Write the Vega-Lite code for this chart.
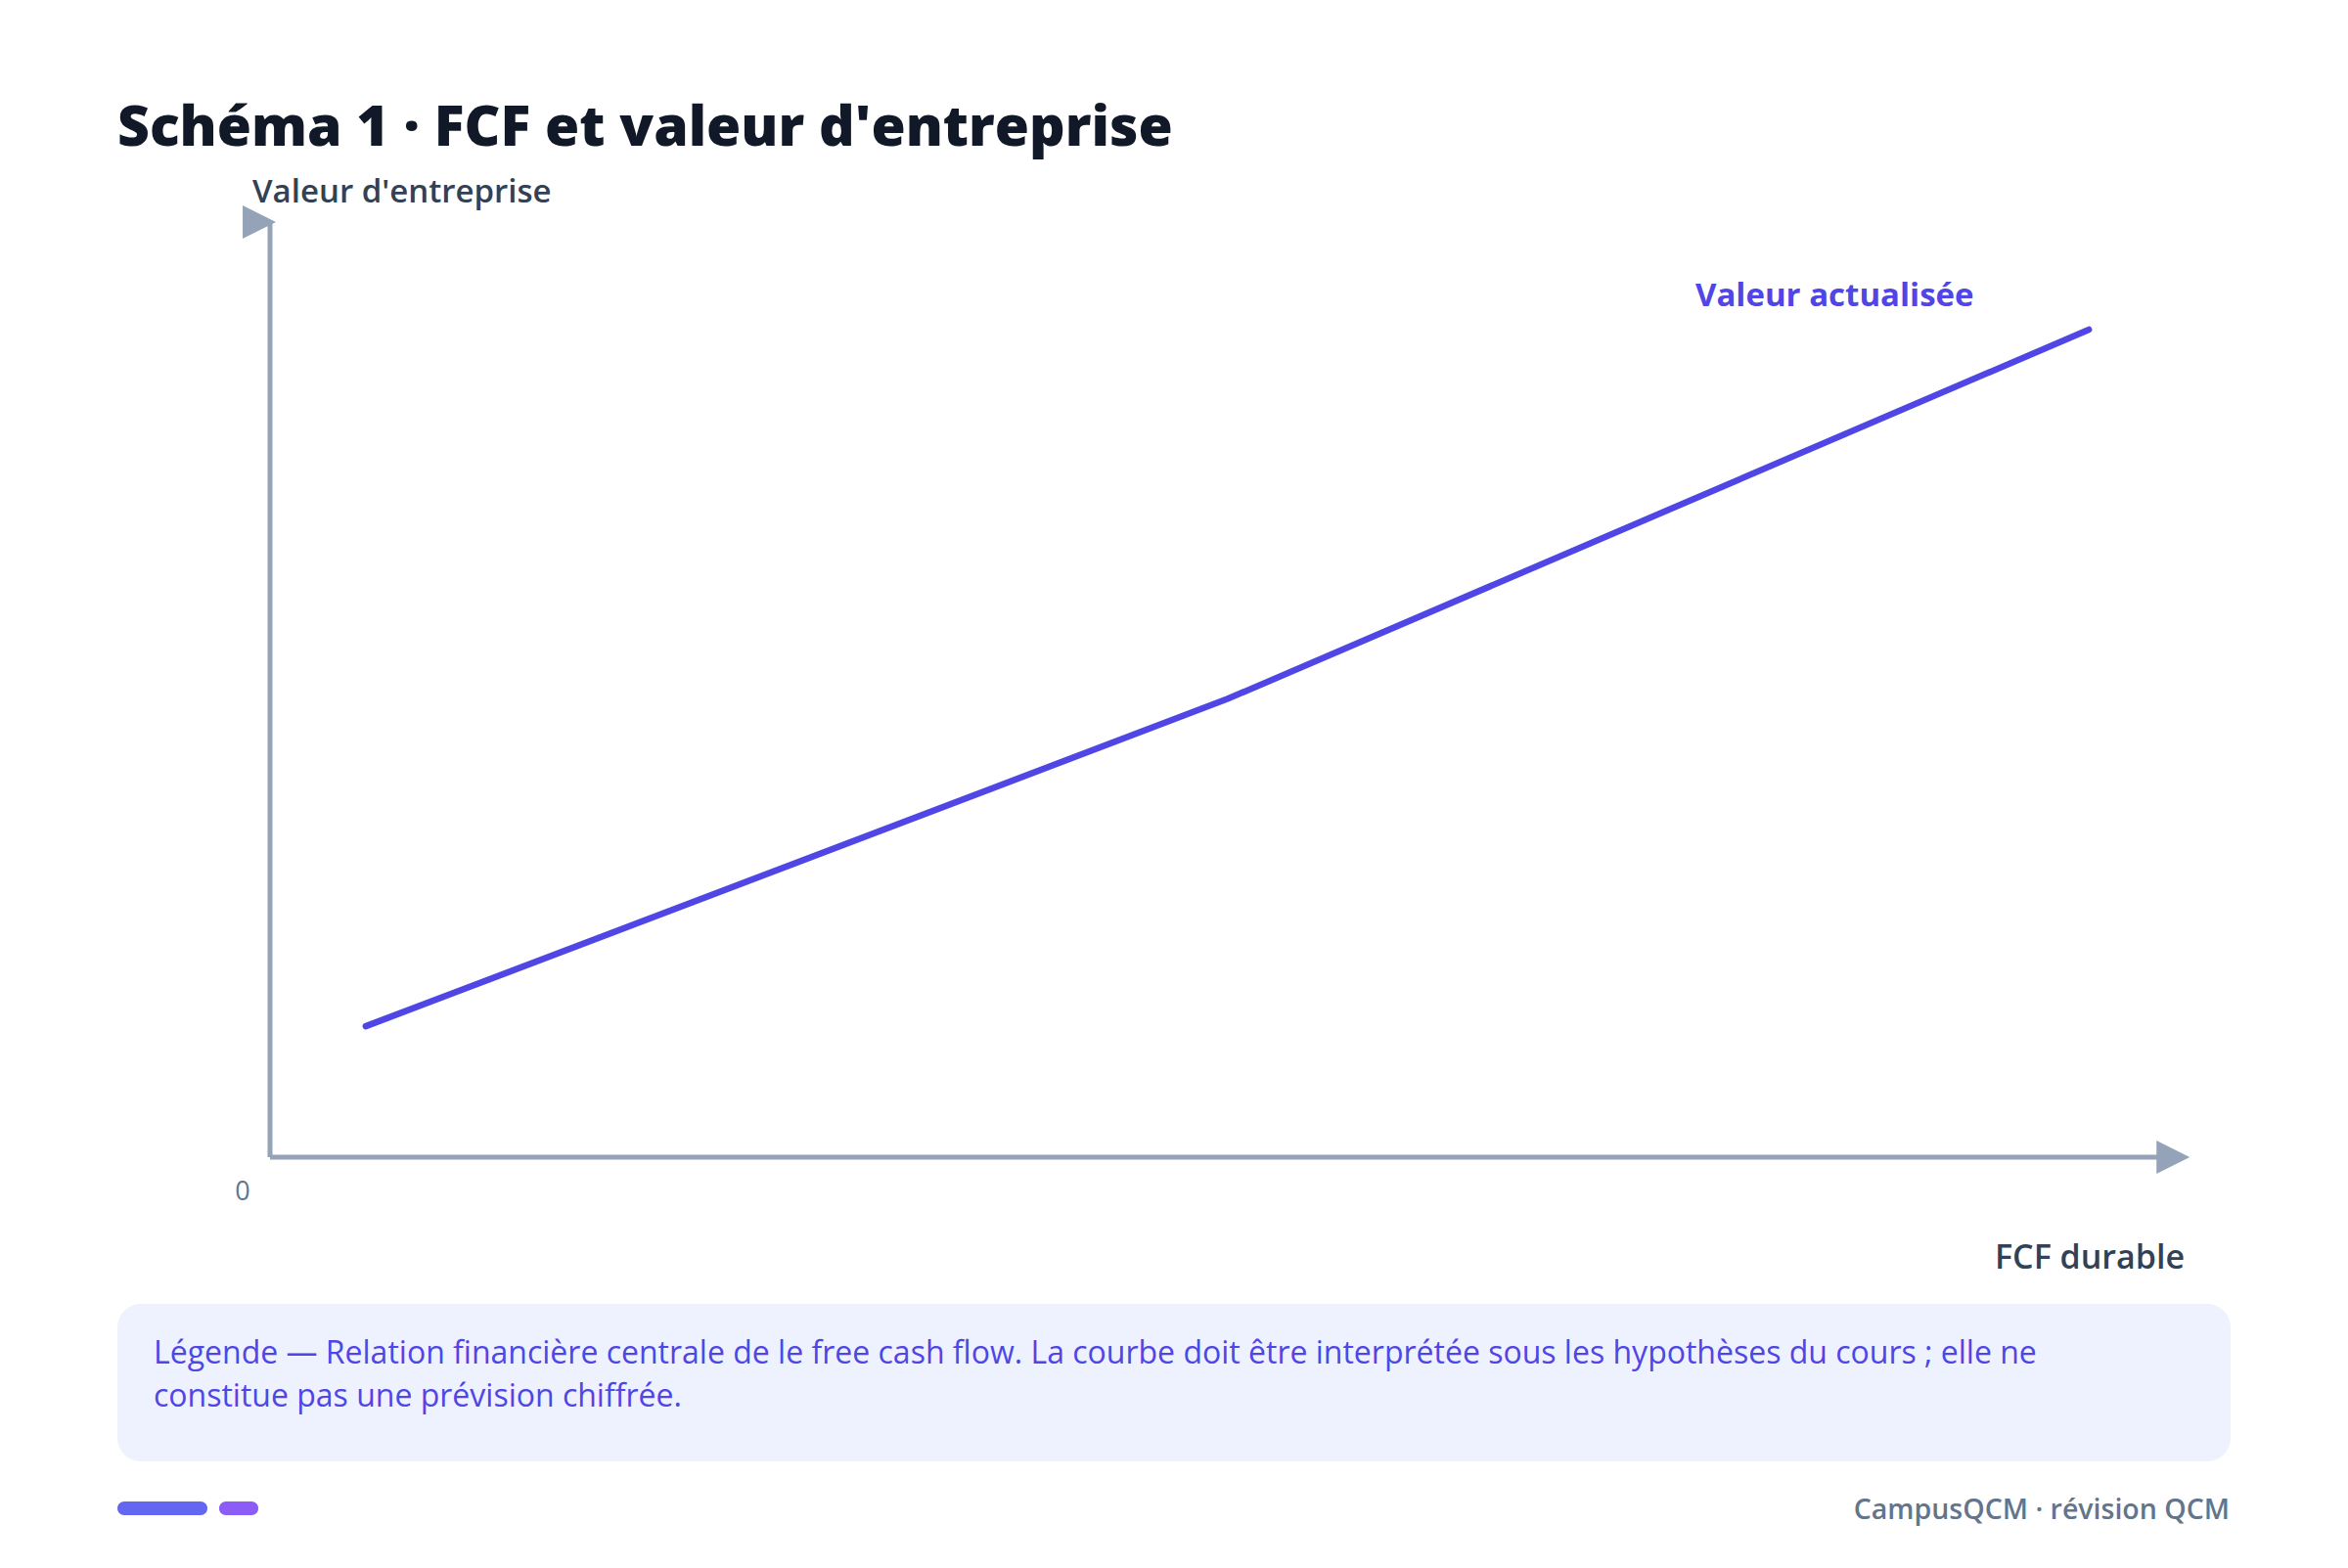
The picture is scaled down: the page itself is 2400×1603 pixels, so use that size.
{
  "$schema": "https://vega.github.io/schema/vega-lite/v6.json",
  "description": "Schéma : FCF durable et valeur d'entreprise",
  "width": 1957,
  "height": 956,
  "autosize": "none",
  "padding": {"left": 276, "top": 227, "right": 167, "bottom": 420},
  "background": "white",
  "title": {
    "text": "Schéma 1 · FCF et valeur d'entreprise",
    "anchor": "start",
    "frame": "group",
    "dx": -156,
    "offset": 20,
    "font": "Open Sans",
    "fontSize": 57,
    "fontWeight": 800,
    "color": "#111827"
  },
  "config": {"view": {"stroke": null}},
  "encoding": {
    "x": {"field": "x", "type": "quantitative", "axis": null, "scale": {"domain": [0, 10], "nice": false, "zero": false}},
    "y": {"field": "y", "type": "quantitative", "axis": null, "scale": {"domain": [0, 10], "nice": false, "zero": false}}
  },
  "layer": [
    {
      "data": {"values": [
        {"x": -0.797, "y": -1.569, "x2": 10.24, "y2": -3.253}
      ]},
      "mark": {"type": "rect", "cornerRadius": 24, "color": "#eef2ff"},
      "encoding": {"x2": {"field": "x2"}, "y2": {"field": "y2"}}
    },
    {
      "data": {"values": [
        {"axe": "y", "x": 0, "y": 0, "x2": 0, "y2": 10},
        {"axe": "x", "x": 0, "y": 0, "x2": 9.94, "y2": 0}
      ]},
      "mark": {"type": "rule", "color": "#94a3b8", "strokeWidth": 5},
      "encoding": {"x2": {"field": "x2"}, "y2": {"field": "y2"}}
    },
    {
      "data": {"values": [
        {"axe": "y", "x": -0.056, "y": 10},
        {"axe": "x", "x": 9.94, "y": 0}
      ]},
      "mark": {"type": "point", "shape": "M-1,-1L1,0L-1,1Z", "filled": true, "color": "#94a3b8", "opacity": 1, "size": 1156}
    },
    {
      "data": {"values": [
        {"x": 0.5, "y": 1.4},
        {"x": 5, "y": 4.9},
        {"x": 9.5, "y": 8.85}
      ]},
      "mark": {"type": "line", "color": "#4f46e5", "strokeWidth": 6.5, "strokeCap": "round", "strokeJoin": "round"}
    },
    {
      "data": {"values": [
        {"x": 7.445, "y": 9.1, "label": "Valeur actualisée"}
      ]},
      "mark": {"type": "text", "align": "left", "baseline": "alphabetic", "font": "Open Sans", "fontSize": 33, "fontWeight": 700, "color": "#4f46e5"},
      "encoding": {"text": {"field": "label"}}
    },
    {
      "data": {"values": [
        {"x": -0.092, "y": 10.21, "label": "Valeur d'entreprise"}
      ]},
      "mark": {"type": "text", "align": "left", "baseline": "alphabetic", "font": "Open Sans", "fontSize": 33, "fontWeight": 600, "color": "#334155"},
      "encoding": {"text": {"field": "label"}}
    },
    {
      "data": {"values": [
        {"x": 10.0, "y": -1.192, "label": "FCF durable"}
      ]},
      "mark": {"type": "text", "align": "right", "baseline": "alphabetic", "font": "Open Sans", "fontSize": 34, "fontWeight": 600, "color": "#334155"},
      "encoding": {"text": {"field": "label"}}
    },
    {
      "data": {"values": [
        {"x": -0.143, "y": -0.46, "label": "0"}
      ]},
      "mark": {"type": "text", "align": "center", "baseline": "alphabetic", "font": "Open Sans", "fontSize": 27, "color": "#64748b"},
      "encoding": {"text": {"field": "label"}}
    },
    {
      "data": {"values": [
        {"x": -0.608, "y": -2.207, "label": "Légende — Relation financière centrale de le free cash flow. La courbe doit être interprétée sous les hypothèses du cours ; elle ne"},
        {"x": -0.608, "y": -2.667, "label": "constitue pas une prévision chiffrée."}
      ]},
      "mark": {"type": "text", "align": "left", "baseline": "alphabetic", "font": "Open Sans", "fontSize": 32, "color": "#4f46e5"},
      "encoding": {"text": {"field": "label"}}
    },
    {
      "data": {"values": [
        {"x": -0.797, "x2": -0.327, "y": -3.682, "y2": -3.828, "couleur": "#6366f1"},
        {"x": -0.266, "x2": -0.061, "y": -3.682, "y2": -3.828, "couleur": "#8b5cf6"}
      ]},
      "mark": {"type": "rect", "cornerRadius": 7},
      "encoding": {"x2": {"field": "x2"}, "y2": {"field": "y2"}, "color": {"field": "couleur", "type": "nominal", "scale": null}}
    },
    {
      "data": {"values": [
        {"x": 10.235, "y": -3.87, "label": "CampusQCM · révision QCM"}
      ]},
      "mark": {"type": "text", "align": "right", "baseline": "alphabetic", "font": "Open Sans", "fontSize": 28.5, "fontWeight": 600, "color": "#64748b"},
      "encoding": {"text": {"field": "label"}}
    }
  ]
}
